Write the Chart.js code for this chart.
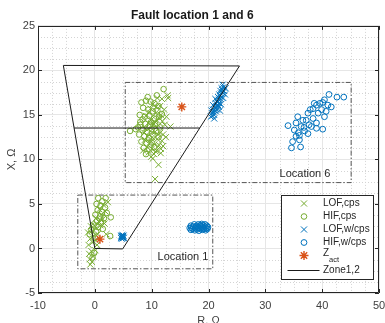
<!DOCTYPE html>
<html>
<head>
<meta charset="utf-8">
<script src="https://cdn.jsdelivr.net/npm/chart.js@4.4.0/dist/chart.umd.min.js"></script>
<style>
  body { margin: 0; background: #fff; }
</style>
</head>
<body>
<canvas id="chart" width="385" height="323"></canvas>
<script>
// values, [R, X] in ohms
const lofCps = [
  [12.8,17.2],[11.8,16.8],[11.0,16.9],[10.2,16.2],[11.5,16.0],[12.2,15.6],[9.8,15.7],[10.7,15.2],[11.6,15.0],[9.0,14.9],
  [10.0,14.5],[10.9,14.4],[11.9,14.3],[9.4,14.1],[10.3,13.9],[11.2,13.8],[12.3,13.9],[13.3,13.7],[8.9,13.5],[9.8,13.2],
  [10.6,13.1],[11.5,13.0],[12.0,12.8],[9.3,12.6],[10.1,12.5],[11.0,12.3],[11.8,12.1],[8.8,12.2],[9.7,11.9],[10.5,11.7],
  [11.3,11.6],[9.2,11.4],[10.0,11.2],[10.9,11.0],[11.6,11.2],[9.5,10.8],[10.4,10.6],[11.6,10.7],[10.2,10.1],[11.2,9.4],
  [10.6,7.8],[12.0,11.5],[8.5,11.0],[9.9,10.3],[12.5,12.5],[12.6,14.8],[10.8,15.9],[9.5,15.3],[8.7,13.0],[11.4,14.6],
  [10.4,14.0],[11.1,12.8],[9.9,12.0],[10.7,10.9],[12.9,16.9],
  [-0.8,-1.8],[-0.5,-1.5],[-0.9,-1.2],[-0.3,-0.9],[-1.0,-0.6],[-0.6,-0.3],[0.1,-0.2],[-1.1,0.4],[-0.4,0.7],[0.2,0.9],
  [-0.8,1.1],[-0.2,1.4],[0.5,1.6],[-1.2,1.8],[-0.5,2.0],[0.3,2.3],[1.0,2.6],[-0.1,2.6],[0.7,3.0],[1.4,3.3],
  [0.2,3.4],[1.1,3.8],[1.8,4.2],[0.8,4.4],[1.5,4.9],[2.3,5.2],[2.0,1.6],[0.4,0.4],[-0.7,2.5],[1.7,2.8]
];
const hifCps = [
  [12.1,17.9],[8.2,16.4],[9.0,16.6],[9.8,16.5],[10.5,16.3],[11.2,16.0],[8.5,15.8],[9.4,15.6],[10.2,15.4],[11.0,15.5],
  [7.9,15.0],[8.8,14.8],[9.6,14.9],[10.4,14.6],[11.3,14.8],[8.0,14.2],[8.9,14.0],[9.7,13.8],[10.6,14.0],[7.6,13.6],
  [8.4,13.3],[9.2,13.1],[10.0,13.4],[10.8,13.2],[6.2,13.2],[7.8,12.8],[8.7,12.6],[9.5,12.4],[10.3,12.7],[11.2,12.5],
  [8.2,12.0],[9.1,11.8],[10.0,11.9],[8.6,11.3],[9.6,11.1],[10.5,11.4],[9.0,10.6],[11.5,13.6],[11.8,15.1],[9.3,17.0],
  [10.9,17.2],[8.0,13.9],[7.2,13.4],[8.4,14.5],[9.9,14.2],
  [0.6,5.65],[1.9,5.65],[1.3,5.3],[0.3,5.0],[1.0,4.8],[1.8,4.6],[0.5,4.3],[1.3,4.1],[2.1,4.0],[0.1,3.8],
  [0.9,3.6],[1.6,3.4],[2.8,3.5],[0.4,3.1],[1.1,2.9],[-0.2,2.7],[0.6,2.4],[1.4,2.2],[-0.6,2.1],[0.2,1.9],
  [-0.9,1.6],[2.7,1.4],[0.0,1.2],[-0.1,-0.5],[-0.4,-1.0]
];
const lofWcps = [
  [20.4,14.8],[20.7,14.9],[21.0,15.0],[20.6,15.2],[20.9,15.3],[21.3,15.4],[20.8,15.6],[21.2,15.7],[21.5,15.6],[21.1,15.9],
  [21.4,16.0],[21.7,16.1],[21.3,16.3],[21.6,16.4],[21.9,16.3],[21.5,16.6],[21.8,16.7],[22.1,16.8],[21.7,17.0],[22.0,17.1],
  [22.3,17.0],[21.9,17.3],[22.2,17.4],[22.5,17.5],[22.1,17.7],[22.4,17.8],[22.7,17.7],[22.3,18.0],[22.6,18.1],[22.5,18.4],
  [21.0,14.6],[21.8,15.9],[22.2,16.2],[22.6,16.9],[22.9,17.3],[20.5,15.5],[20.8,16.1],[21.2,16.8],[23.0,18.0],[22.0,15.5],
  [4.6,1.2],[4.7,1.35],[4.8,1.25],[4.9,1.4],[5.0,1.3],[4.75,1.1],[4.95,1.15],[5.05,1.45],[4.85,1.5],[4.65,1.45],
  [5.1,1.2],[4.8,1.3]
];
const hifWcps = [
  [41.2,17.3],[42.6,17.0],[43.8,17.0],[40.1,16.4],[39.0,16.1],[41.0,16.1],[39.6,16.3],[40.4,16.7],[38.4,15.7],[39.9,15.6],
  [41.6,15.9],[40.7,15.4],[37.5,15.2],[39.3,15.2],[40.4,14.8],[38.4,14.6],[37.2,14.4],[35.7,14.8],[39.0,14.1],[34.0,13.8],
  [35.4,14.1],[36.3,13.7],[38.1,13.7],[35.1,13.3],[36.9,13.2],[39.0,13.5],[40.1,13.4],[36.0,12.7],[37.5,12.9],[34.8,12.0],
  [36.0,12.2],[34.6,11.3],[36.2,11.4],[35.4,12.6],[37.7,13.9],[36.6,14.4],[38.6,16.3],[37.9,15.6],[36.8,13.6],[35.8,13.0],
  [16.7,2.3],[16.9,2.1],[16.9,2.55],[17.2,2.2],[17.3,2.45],[17.5,2.7],[17.6,2.05],[17.7,2.3],[17.9,2.55],[18.0,2.15],
  [18.1,2.4],[18.2,2.7],[18.3,2.0],[18.4,2.3],[18.5,2.55],[18.6,2.2],[18.7,2.45],[18.8,2.75],[18.9,2.1],[19.0,2.35],
  [19.1,2.6],[19.2,2.2],[19.3,2.45],[19.4,2.7],[19.5,2.05],[19.6,2.3],[19.7,2.55],[19.8,2.2],[19.9,2.4],[17.0,2.35],
  [17.8,2.45],[18.6,2.6]
];
const zAct = [[15.3,15.9],[0.9,1.05]];
// zone 1 and 2 characteristic, traced as one path
const zoneLine = [[-3.65,13.53],[0,0],[4.9,-0.05],[18.46,13.53],[25.45,20.5],[-5.54,20.56],[-3.65,13.53],[18.46,13.53]];
const location6Box = [[5.35,18.65],[45.1,18.65],[45.1,7.4],[5.35,7.4],[5.35,18.65]];
const location1Box = [[-3.0,6.0],[20.75,6.0],[20.75,-2.28],[-3.0,-2.28],[-3.0,6.0]];
const locationLabels = [['Location 6',36.97,8.37],['Location 1',15.5,-1.0]];

const FONT = '"Liberation Sans", Arial, sans-serif';
const green = '#77AC30', blue = '#0072BD', red = '#D95319';
const pts = a => a.map(p => ({x: p[0], y: p[1]}));

const markers = (label, data, color, style, r, order) => ({
  label, data: pts(data), order,
  pointStyle: style, pointRadius: r, pointHoverRadius: r,
  borderColor: color, backgroundColor: 'rgba(0,0,0,0)', pointBorderWidth: 1, showLine: false
});
const path = (label, data, color, dash, order, inLegend) => ({
  label, data: pts(data), order, inLegend,
  showLine: true, pointRadius: 0, borderColor: color, borderWidth: 1, borderDash: dash, tension: 0, fill: false
});

const datasets = [
  markers('LOF,cps', lofCps, green, 'crossRot', 4.3, 5),
  markers('HIF,cps', hifCps, green, 'circle', 2.8, 4),
  markers('LOF,w/cps', lofWcps, blue, 'crossRot', 4.3, 3),
  markers('HIF,w/cps', hifWcps, blue, 'circle', 2.9, 2),
  markers('Z_act', zAct, red, 'star', 4.5, 1),
  path('Zone1,2', zoneLine, '#1a1a1a', [], 0, true),
  path('', location6Box, '#555555', [5,2,1.5,2], 6, false),
  path('', location1Box, '#555555', [5,2,1.5,2], 6, false)
];
datasets.forEach(d => { if (d.inLegend === undefined) d.inLegend = true; });
datasets[4].pointBorderWidth = 1.4;

const decor = {
  id: 'decor',
  beforeDatasetsDraw(chart) {
    const {ctx, chartArea: a, scales: {x, y}} = chart;
    ctx.save();
    // minor grid
    ctx.strokeStyle = '#d4d4d4';
    ctx.lineWidth = 1;
    ctx.setLineDash([1, 2]);
    for (let v = -10; v <= 50; v += 2.5) {
      if (v % 10 === 0) continue;
      const px = Math.round(x.getPixelForValue(v)) + 0.5;
      ctx.beginPath(); ctx.moveTo(px, a.top); ctx.lineTo(px, a.bottom); ctx.stroke();
    }
    for (let v = -5; v <= 25; v += 1.25) {
      if (v % 5 === 0) continue;
      const py = Math.round(y.getPixelForValue(v)) + 0.5;
      ctx.beginPath(); ctx.moveTo(a.left, py); ctx.lineTo(a.right, py); ctx.stroke();
    }
    ctx.setLineDash([]);
    // axes box with inward ticks
    ctx.strokeStyle = '#262626';
    ctx.beginPath();
    ctx.rect(Math.round(a.left) + 0.5, Math.round(a.top) + 0.5, Math.round(a.width) - 1, Math.round(a.height) - 1);
    ctx.stroke();
    ctx.beginPath();
    x.ticks.forEach(t => {
      const px = Math.round(x.getPixelForValue(t.value)) + 0.5;
      ctx.moveTo(px, a.bottom); ctx.lineTo(px, a.bottom - 4);
      ctx.moveTo(px, a.top); ctx.lineTo(px, a.top + 4);
    });
    y.ticks.forEach(t => {
      const py = Math.round(y.getPixelForValue(t.value)) + 0.5;
      ctx.moveTo(a.left, py); ctx.lineTo(a.left + 4, py);
      ctx.moveTo(a.right, py); ctx.lineTo(a.right - 4, py);
    });
    ctx.stroke();
    ctx.restore();
  },
  afterDatasetsDraw(chart) {
    const {ctx, chartArea: a, scales: {x, y}} = chart;
    ctx.save();
    ctx.fillStyle = '#262626';
    ctx.font = '11px ' + FONT;
    ctx.textAlign = 'center';
    ctx.textBaseline = 'middle';
    locationLabels.forEach(l => ctx.fillText(l[0], x.getPixelForValue(l[1]), y.getPixelForValue(l[2])));

    // legend box
    const bw = 92, bh = 84;
    const bx = Math.round(a.right - 6 - bw) + 0.5, by = Math.round(a.bottom - 14 - bh) + 0.5;
    ctx.fillStyle = '#ffffff';
    ctx.fillRect(bx, by, bw, bh);
    ctx.strokeStyle = '#262626';
    ctx.lineWidth = 1;
    ctx.strokeRect(bx, by, bw, bh);
    const rowH = [13, 13, 13, 13, 15, 14];
    let cy = by + 8;
    chart.data.datasets.filter(d => d.inLegend).forEach((d, i) => {
      if (d.showLine) {
        ctx.strokeStyle = d.borderColor;
        ctx.lineWidth = 1;
        ctx.beginPath(); ctx.moveTo(bx + 6, cy); ctx.lineTo(bx + 38, cy); ctx.stroke();
      } else {
        ctx.strokeStyle = d.borderColor;
        ctx.fillStyle = 'rgba(0,0,0,0)';
        ctx.lineWidth = d.pointBorderWidth;
        Chart.helpers.drawPoint(ctx, {pointStyle: d.pointStyle, radius: d.pointRadius, rotation: 0, borderWidth: d.pointBorderWidth}, bx + 22.5, cy);
      }
      ctx.fillStyle = '#262626';
      ctx.textAlign = 'left';
      ctx.textBaseline = 'middle';
      const parts = d.label.split('_');
      ctx.font = '10px ' + FONT;
      if (parts.length > 1) {
        ctx.fillText(parts[0], bx + 41.5, cy - 2);
        const w = ctx.measureText(parts[0]).width;
        ctx.font = '7.5px ' + FONT;
        ctx.fillText(parts[1], bx + 41.5 + w, cy + 4.5);
      } else {
        ctx.fillText(d.label, bx + 41.5, cy);
      }
      cy += rowH[i] || 13;
    });
    ctx.restore();
  }
};

new Chart(document.getElementById('chart'), {
  type: 'scatter',
  data: { datasets },
  options: {
    responsive: false,
    animation: false,
    devicePixelRatio: 1,
    layout: { padding: { left: 0, right: 0.5, top: 0, bottom: 0 } },
    plugins: {
      legend: { display: false },
      tooltip: { enabled: false },
      title: {
        display: true,
        text: 'Fault location 1 and 6',
        color: '#1a1a1a',
        font: { family: FONT, size: 12, weight: 'bold' },
        padding: { top: 8.5, bottom: 3 }
      }
    },
    scales: {
      x: {
        type: 'linear', min: -10, max: 50,
        ticks: { stepSize: 10, autoSkip: false, maxRotation: 0, color: '#404040', padding: 6, font: { family: FONT, size: 11 } },
        grid: { color: '#e6e6e6', drawTicks: false },
        border: { display: false },
        title: { display: true, text: 'R, Ω', color: '#404040', font: { family: FONT, size: 11 }, padding: { top: 0, bottom: -4.5 } },
        afterFit: s => { s.height = 30; s.paddingRight = 6; s.paddingLeft = 0; }
      },
      y: {
        type: 'linear', min: -5, max: 25,
        ticks: { stepSize: 5, autoSkip: false, color: '#404040', padding: 3, font: { family: FONT, size: 11 } },
        grid: { color: '#e6e6e6', drawTicks: false },
        border: { display: false },
        title: { display: true, text: 'X, Ω', color: '#404040', font: { family: FONT, size: 11 }, padding: { top: 5, bottom: 0 } },
        afterFit: s => { s.width = 38; }
      }
    }
  },
  plugins: [decor]
});
</script>
</body>
</html>
